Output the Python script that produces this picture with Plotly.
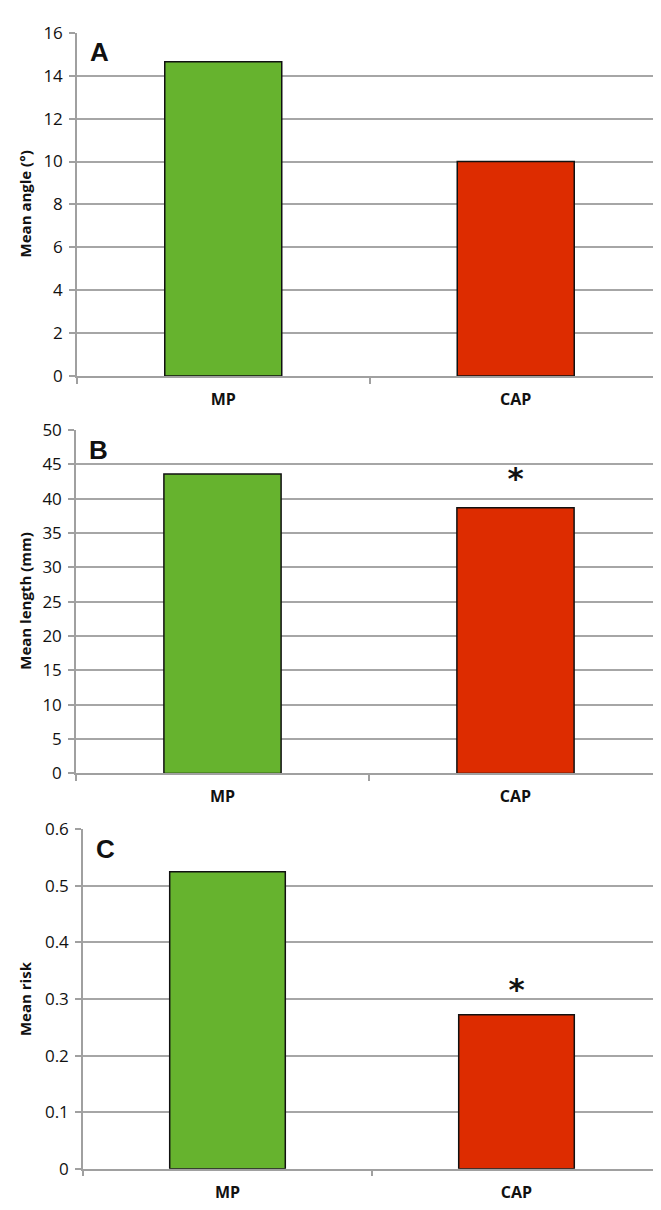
import plotly.graph_objects as go

categories = ["MP", "CAP"]
angle_values = [14.65, 10.0]
length_values = [43.6, 38.7]
risk_values = [0.525, 0.272]
bar_colors = ["#66b32e", "#dd2c00"]

panel_letters = ["A", "B", "C"]
y_titles = ["Mean angle (°)", "Mean length (mm)", "Mean risk"]
y_ranges = [[0, 16], [0, 50], [0, 0.6]]
y_dticks = [2, 5, 0.1]

sig_b = {"x": ["CAP"], "y": [42.6]}
sig_c = {"x": ["CAP"], "y": [0.312]}

W, H = 661, 1210
# pixel boxes for plot areas: (left, right, top, bottom)
boxes = [(69, 654, 13, 363), (68, 654, 418, 768), (75, 653, 825, 1171)]

fig = go.Figure()
series = [angle_values, length_values, risk_values]
for i, vals in enumerate(series):
    n = "" if i == 0 else str(i + 1)
    fig.add_trace(go.Bar(
        x=categories, y=vals, width=0.4,
        marker=dict(color=bar_colors, line=dict(color="#111111", width=1.5)),
        xaxis="x" + n, yaxis="y" + n, showlegend=False,
    ))

for i, sig in [(1, sig_b), (2, sig_c)]:
    n = str(i + 1)
    fig.add_trace(go.Scatter(
        x=sig["x"], y=sig["y"], mode="text", text=["<b>*</b>"],
        textfont=dict(family="DejaVu Sans", size=31, color="#111111"),
        xaxis="x" + n, yaxis="y" + n, showlegend=False,
    ))

layout = dict(width=W, height=H, margin=dict(l=0, r=0, t=0, b=0),
              paper_bgcolor="white", plot_bgcolor="white",
              font=dict(family="Open Sans", color="#111111"))
annotations = []
for i, (l, r, t, b) in enumerate(boxes):
    n = "" if i == 0 else str(i + 1)
    xd = [l / W, r / W]
    yd = [1 - b / H, 1 - t / H]
    layout["xaxis" + n] = dict(
        domain=xd, anchor="y" + n, type="category", range=[-0.5, 1.5],
        showline=True, linecolor="#a0a0a0", linewidth=1.5,
        ticks="outside", tickson="boundaries", ticklen=6, tickcolor="#a0a0a0", tickwidth=1.5,
        tickfont=dict(family="Open Sans", size=16, color="#111111", weight="bold"),
        ticklabelstandoff=8,
        showgrid=False, fixedrange=True,
    )
    layout["yaxis" + n] = dict(
        domain=yd, anchor="x" + n, range=y_ranges[i], dtick=y_dticks[i], tick0=0,
        showline=True, linecolor="#a0a0a0", linewidth=1.5,
        ticks="outside", ticklen=6, tickcolor="#a0a0a0", tickwidth=1.5,
        showgrid=True, gridcolor="#a6a6a6", gridwidth=1.5, zeroline=False,
        tickfont=dict(family="Open Sans", size=17, color="#111111"),
        ticklabelstandoff=3,
    )
    annotations.append(dict(
        text="<b>%s</b>" % y_titles[i], textangle=-90, showarrow=False,
        xref="paper", yref="paper", x=17 / W, y=1 - (t + b) / 2 / H,
        xanchor="center", yanchor="middle",
        font=dict(family="Open Sans", size=15, color="#111111"),
    ))
    annotations.append(dict(
        text="<b>%s</b>" % panel_letters[i], showarrow=False,
        xref="paper", yref="paper", x=(l + 11) / W, y=1 - (t + 20) / H,
        xanchor="left", yanchor="middle",
        font=dict(family="Arial, Liberation Sans", size=26, color="#111111"),
    ))
layout["annotations"] = annotations
fig.update_layout(**layout)
fig.write_html("out.html")
